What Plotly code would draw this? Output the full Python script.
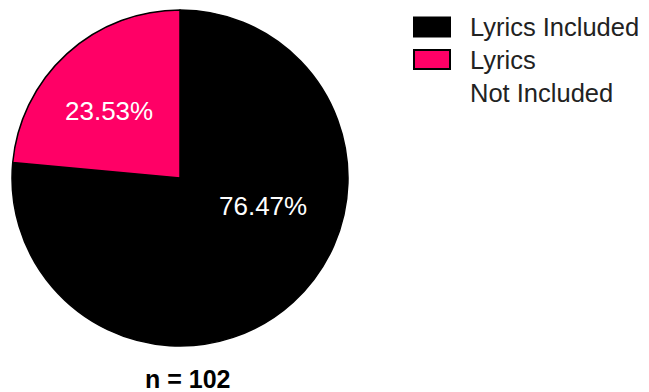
import plotly.graph_objects as go

labels = ["Lyrics Included", "Lyrics<br>Not Included"]
counts = [78, 24]
colors = ["#000000", "#FF0066"]
n_total = sum(counts)

W, H = 649, 392
FONT = "Liberation Sans, Arial"

fig = go.Figure()
fig.add_trace(go.Pie(
    labels=labels, values=counts, sort=False, direction="clockwise", rotation=0,
    marker=dict(colors=colors, line=dict(color="#000000", width=1.5)),
    textinfo="none",
    domain=dict(x=[12 / W, 348 / W], y=[1 - 346 / H, 1 - 10 / H]),
    showlegend=False, hoverinfo="label+percent",
))

# percentage labels (layout positions of the text inside each slice)
label_pos = [(262.5, 206), (108.5, 111)]
for c, (px, py) in zip(counts, label_pos):
    fig.add_annotation(xref="paper", yref="paper", x=px / W, y=1 - py / H,
                       xanchor="center", yanchor="middle", showarrow=False,
                       text=f"{100 * c / n_total:.2f}%",
                       font=dict(family=FONT, size=26, color="#FFFFFF"))

# custom legend
sw_y = [27, 59.5]
for i, (lab, col) in enumerate(zip(labels, colors)):
    yc = sw_y[i]
    fig.add_shape(type="rect", xref="paper", yref="paper",
                  x0=414 / W, x1=450 / W, y0=1 - (yc + 9.5) / H, y1=1 - (yc - 9.5) / H,
                  fillcolor=col, line=dict(color="#000000", width=2))
    for j, line in enumerate(lab.split("<br>")):
        fig.add_annotation(xref="paper", yref="paper", x=468 / W, y=1 - (yc + 33.5 * j) / H,
                           xanchor="left", yanchor="middle", align="left", showarrow=False,
                           text=line, font=dict(family=FONT, size=25.5, color="#222222"))

fig.add_annotation(xref="paper", yref="paper", x=187 / W, y=1 - 379 / H,
                   xanchor="center", yanchor="middle", showarrow=False,
                   text=f"<b>n = {n_total}</b>",
                   font=dict(family=FONT, size=25, color="#000000"))

fig.update_layout(width=W, height=H, margin=dict(l=0, r=0, t=0, b=0),
                  paper_bgcolor="white", plot_bgcolor="white")
fig.write_html("out.html")
